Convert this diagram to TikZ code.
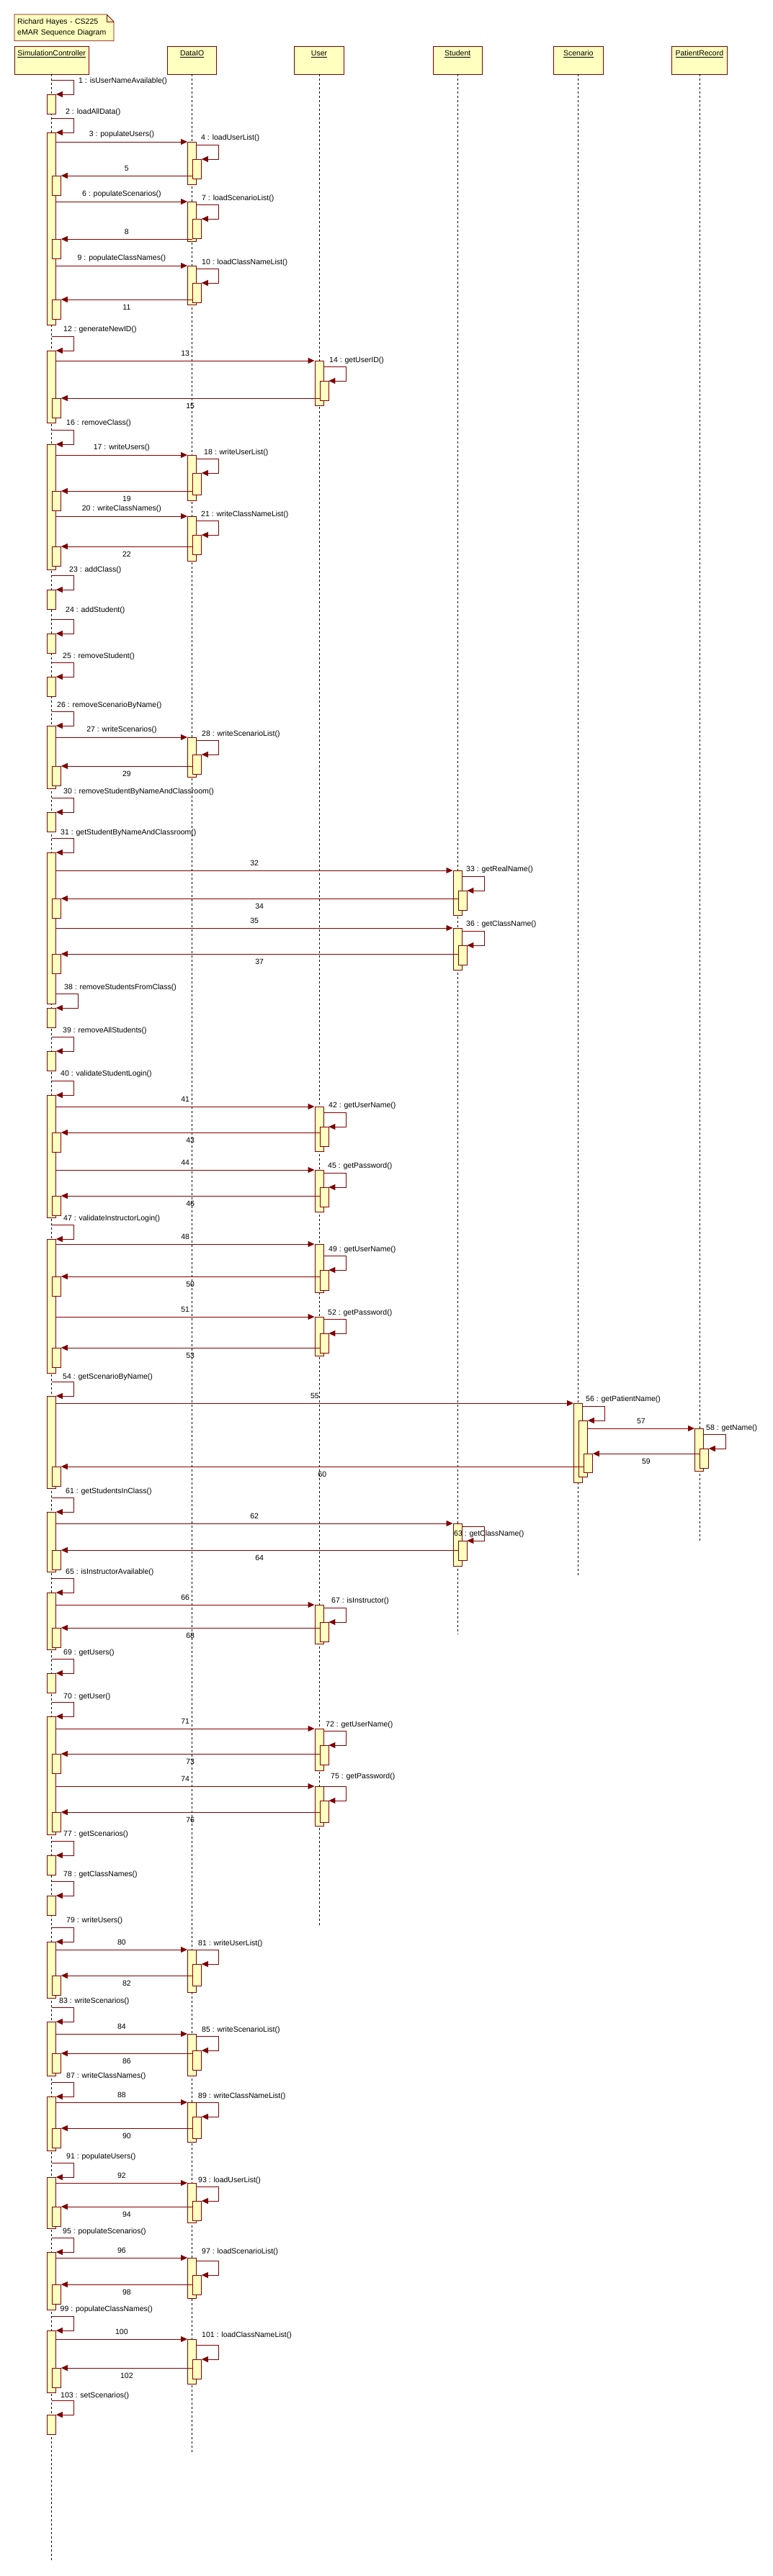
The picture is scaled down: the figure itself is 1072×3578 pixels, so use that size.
\documentclass[tikz,border=0pt]{standalone}
\usepackage{fontspec}
\setmainfont{Liberation Sans}
\usetikzlibrary{arrows.meta}
\definecolor{umlred}{RGB}{128,0,0}
\definecolor{umlfill}{RGB}{255,255,192}

\begin{document}
\begin{tikzpicture}[x=1pt, y=-1pt, font=\fontsize{10.5}{15}\selectfont,
	head/.style={draw=umlred, fill=umlfill, line width=0.8pt, minimum height=39pt, inner sep=0pt},
	act/.style={draw=umlred, fill=umlfill, line width=0.8pt, anchor=north west, minimum width=12pt, minimum height=27pt, inner sep=0pt},
	life/.style={dash pattern=on 3pt off 3pt, line width=0.7pt},
	msg/.style={draw=umlred, line width=0.9pt, -{Triangle[length=9pt, width=8pt]}},
	lbl/.style={inner sep=0pt},
	self/.style={lbl, anchor=west},
	call/.style={lbl, midway, yshift=10pt},
	back/.style={lbl, midway, yshift=-10.5pt}]
	
	\useasboundingbox (0,0) rectangle (1072,3578);
	
	\draw[draw=umlred, fill=umlfill, line width=0.8pt] (20,20) -- (148,20) -- (158,30) -- (158,56.7) -- (20,56.7) -- cycle;
	\draw[draw=umlred, line width=0.6pt] (148,20) |- (158,30);
	\node[lbl, anchor=north west, minimum height=36.7pt, text width=130pt, inner xsep=4pt, align=left] (note) at (20,20) {Richard Hayes - CS225\\eMAR Sequence Diagram};
	
	\node[head, minimum width=103.3pt] (sc)  at (71.7,83.5)  {};
	\node[head, minimum width=68pt]    (dio) at (266.7,83.5) {};
	\node[head, minimum width=68.4pt]  (usr) at (443,83.5)   {};
	\node[head, minimum width=68.3pt]  (stu) at (635.2,83.5) {};
	\node[head, minimum width=68.5pt]  (scn) at (802.8,83.5) {};
	\node[head, minimum width=76.5pt]  (pr)  at (970.9,83.5) {};
	\node[lbl] (sc-t)  at (71.7,75)  {\underline{SimulationController}};
	\node[lbl] (dio-t) at (266.7,75) {\underline{DataIO}};
	\node[lbl] (usr-t) at (443,75)   {\underline{User}};
	\node[lbl] (stu-t) at (635.2,75) {\underline{Student}};
	\node[lbl] (scn-t) at (802.8,75) {\underline{Scenario}};
	\node[lbl] (pr-t)  at (970.9,75) {\underline{PatientRecord}};
	
	\coordinate (sc-end)  at (71.7,3557);
	\coordinate (dio-end) at (266.7,3407);
	\coordinate (usr-end) at (443,2675);
	\coordinate (stu-end) at (635.2,2270);
	\coordinate (scn-end) at (802.8,2189);
	\coordinate (pr-end)  at (970.9,2140);
	\draw[life] (sc) -- (sc-end);
	\draw[life] (dio) -- (dio-end);
	\draw[life] (usr) -- (usr-end);
	\draw[life] (stu) -- (stu-end);
	\draw[life] (scn) -- (scn-end);
	\draw[life] (pr) -- (pr-end);
	
	\node[act] (a1) at (65,131) {};
	\node[act, minimum height=267pt] (a2) at (65,184) {};
	\node[act, minimum height=100pt] (a12) at (65,487) {};
	\node[act, minimum height=174pt] (a16) at (65,617) {};
	\node[act] (a23) at (65,819) {};
	\node[act] (a24) at (65,880) {};
	\node[act] (a25) at (65,940) {};
	\node[act, minimum height=87pt] (a26) at (65,1008) {};
	\node[act] (a30) at (65,1128) {};
	\node[act, minimum height=210pt] (a31) at (65,1184) {};
	\node[act] (a38) at (65,1400) {};
	\node[act] (a39) at (65,1460) {};
	\node[act, minimum height=170pt] (a40) at (65,1521) {};
	\node[act, minimum height=186pt] (a47) at (65,1721) {};
	\node[act, minimum height=128pt] (a54) at (65,1939) {};
	\node[act, minimum height=83pt] (a61) at (65,2100) {};
	\node[act, minimum height=79pt] (a65) at (65,2212) {};
	\node[act] (a69) at (65,2324) {};
	\node[act, minimum height=164pt] (a70) at (65,2384) {};
	\node[act] (a77) at (65,2577) {};
	\node[act] (a78) at (65,2633) {};
	\node[act, minimum height=78pt] (a79) at (65,2697) {};
	\node[act, minimum height=75pt] (a83) at (65,2808) {};
	\node[act, minimum height=75pt] (a87) at (65,2912) {};
	\node[act, minimum height=71pt] (a91) at (65,3024) {};
	\node[act, minimum height=80pt] (a95) at (65,3128) {};
	\node[act, minimum height=86pt] (a99) at (65,3237) {};
	\node[act] (a103) at (65,3354) {};
	
	\node[act, minimum height=59pt] (d3) at (260,197) {};
	\node[act, minimum height=55pt] (d6) at (260,280) {};
	\node[act, minimum height=54pt] (d9) at (260,369) {};
	\node[act, minimum height=63pt] (d17) at (260,632) {};
	\node[act, minimum height=62pt] (d20) at (260,717) {};
	\node[act, minimum height=55pt] (d27) at (260,1024) {};
	\node[act, minimum height=59pt] (d80) at (260,2708) {};
	\node[act, minimum height=58pt] (d84) at (260,2825) {};
	\node[act, minimum height=55pt] (d88) at (260,2920) {};
	\node[act, minimum height=55pt] (d92) at (260,3032) {};
	\node[act, minimum height=56pt] (d96) at (260,3136) {};
	\node[act, minimum height=62pt] (d100) at (260,3249) {};
	\node[act] (n4) at (267,221) {};
	\node[act] (n7) at (267,304) {};
	\node[act] (n10) at (267,393) {};
	\node[act, minimum height=30pt] (n18) at (267,657) {};
	\node[act] (n21) at (267,743) {};
	\node[act] (n28) at (267,1048) {};
	\node[act, minimum height=30pt] (n81) at (267,2728) {};
	\node[act] (n85) at (267,2848) {};
	\node[act, minimum height=30pt] (n89) at (267,2940) {};
	\node[act] (n93) at (267,3057) {};
	\node[act] (n97) at (267,3160) {};
	\node[act] (n101) at (267,3277) {};
	
	\node[act, minimum height=62pt] (u13) at (436.5,501) {};
	\node[act, minimum height=62pt] (u41) at (436.5,1537) {};
	\node[act, minimum height=58pt] (u44) at (436.5,1625) {};
	\node[act, minimum height=67pt] (u48) at (436.5,1728) {};
	\node[act, minimum height=54pt] (u51) at (436.5,1829) {};
	\node[act, minimum height=54pt] (u66) at (436.5,2229) {};
	\node[act, minimum height=58pt] (u71) at (436.5,2401) {};
	\node[act, minimum height=55pt] (u74) at (436.5,2481) {};
	\node[act] (n14) at (443.5,529) {};
	\node[act] (n42) at (443.5,1565) {};
	\node[act] (n45) at (443.5,1649) {};
	\node[act, minimum height=28pt] (n49) at (443.5,1764) {};
	\node[act] (n52) at (443.5,1852) {};
	\node[act] (n67) at (443.5,2253) {};
	\node[act] (n72) at (443.5,2424) {};
	\node[act, minimum height=30pt] (n75) at (443.5,2501) {};
	
	\node[act, minimum height=62pt] (s32) at (628.5,1209) {};
	\node[act, minimum height=58pt] (s35) at (628.5,1289) {};
	\node[act, minimum height=59pt] (s62) at (628.5,2116) {};
	\node[act] (n33) at (635.5,1237) {};
	\node[act] (n36) at (635.5,1313) {};
	\node[act] (n63) at (635.5,2140) {};
	
	\node[act, minimum height=110pt] (c55) at (796,1949) {};
	\node[act, minimum height=78pt] (n56) at (803,1973) {};
	\node[act, minimum height=26pt] (n59) at (810,2019) {};
	\node[act, minimum height=59pt] (p57) at (964,1984) {};
	\node[act] (n58) at (971,2012) {};
	
	\node[act] (r5) at (72,244) {};
	\node[act] (r8) at (72,332) {};
	\node[act] (r11) at (72,416) {};
	\node[act] (r15) at (72,553) {};
	\node[act] (r19) at (72,682) {};
	\node[act] (r22) at (72,759) {};
	\node[act] (r29) at (72,1064) {};
	\node[act] (r34) at (72,1248) {};
	\node[act] (r37) at (72,1325) {};
	\node[act] (r43) at (72,1573) {};
	\node[act] (r46) at (72,1661) {};
	\node[act] (r50) at (72,1773) {};
	\node[act] (r53) at (72,1872) {};
	\node[act] (r60) at (72,2037) {};
	\node[act] (r64) at (72,2153) {};
	\node[act] (r68) at (72,2261) {};
	\node[act] (r73) at (72,2436) {};
	\node[act] (r76) at (72,2517) {};
	\node[act] (r82) at (72,2744) {};
	\node[act] (r86) at (72,2852) {};
	\node[act] (r90) at (72,2956) {};
	\node[act] (r94) at (72,3065) {};
	\node[act] (r98) at (72,3173) {};
	\node[act] (r102) at (72,3289) {};
	
	\draw[msg] (a2.east |- d3.north) -- (d3.north west) node[call] {3 : populateUsers()};
	\draw[msg] (a2.east |- d6.north) -- (d6.north west) node[call] {6 : populateScenarios()};
	\draw[msg] (a2.east |- d9.north) -- (d9.north west) node[call] {9 : populateClassNames()};
	\draw[msg] (a12.east |- u13.north) -- (u13.north west) node[call] {13};
	\draw[msg] (a16.east |- d17.north) -- (d17.north west) node[call] {17 : writeUsers()};
	\draw[msg] (a16.east |- d20.north) -- (d20.north west) node[call] {20 : writeClassNames()};
	\draw[msg] (a26.east |- d27.north) -- (d27.north west) node[call] {27 : writeScenarios()};
	\draw[msg] (a31.east |- s32.north) -- (s32.north west) node[call] {32};
	\draw[msg] (a31.east |- s35.north) -- (s35.north west) node[call] {35};
	\draw[msg] (a40.east |- u41.north) -- (u41.north west) node[call] {41};
	\draw[msg] (a40.east |- u44.north) -- (u44.north west) node[call] {44};
	\draw[msg] (a47.east |- u48.north) -- (u48.north west) node[call] {48};
	\draw[msg] (a47.east |- u51.north) -- (u51.north west) node[call] {51};
	\draw[msg] (a54.east |- c55.north) -- (c55.north west) node[call] {55};
	\draw[msg] (n56.east |- p57.north) -- (p57.north west) node[call] {57};
	\draw[msg] (a61.east |- s62.north) -- (s62.north west) node[call] {62};
	\draw[msg] (a65.east |- u66.north) -- (u66.north west) node[call] {66};
	\draw[msg] (a70.east |- u71.north) -- (u71.north west) node[call] {71};
	\draw[msg] (a70.east |- u74.north) -- (u74.north west) node[call] {74};
	\draw[msg] (a79.east |- d80.north) -- (d80.north west) node[call] {80};
	\draw[msg] (a83.east |- d84.north) -- (d84.north west) node[call] {84};
	\draw[msg] (a87.east |- d88.north) -- (d88.north west) node[call] {88};
	\draw[msg] (a91.east |- d92.north) -- (d92.north west) node[call] {92};
	\draw[msg] (a95.east |- d96.north) -- (d96.north west) node[call] {96};
	\draw[msg] (a99.east |- d100.north) -- (d100.north west) node[call] {100};
	
	\draw[msg] (n4.west |- r5.north) -- (r5.north east) node[call] {5};
	\draw[msg] (n7.west |- r8.north) -- (r8.north east) node[call] {8};
	\draw[msg] (n10.west |- r11.north) -- (r11.north east) node[back] {11};
	\draw[msg] (n14.west |- r15.north) -- (r15.north east) node[back] {15};
	\draw[msg] (n18.west |- r19.north) -- (r19.north east) node[back] {19};
	\draw[msg] (n21.west |- r22.north) -- (r22.north east) node[back] {22};
	\draw[msg] (n28.west |- r29.north) -- (r29.north east) node[back] {29};
	\draw[msg] (n33.west |- r34.north) -- (r34.north east) node[back] {34};
	\draw[msg] (n36.west |- r37.north) -- (r37.north east) node[back] {37};
	\draw[msg] (n42.west |- r43.north) -- (r43.north east) node[back] {43};
	\draw[msg] (n45.west |- r46.north) -- (r46.north east) node[back] {46};
	\draw[msg] (n49.west |- r50.north) -- (r50.north east) node[back] {50};
	\draw[msg] (n52.west |- r53.north) -- (r53.north east) node[back] {53};
	\draw[msg] (n58.west |- n59.north) -- (n59.north east) node[back] {59};
	\draw[msg] (n59.west |- r60.north) -- (r60.north east) node[back] {60};
	\draw[msg] (n63.west |- r64.north) -- (r64.north east) node[back] {64};
	\draw[msg] (n67.west |- r68.north) -- (r68.north east) node[back] {68};
	\draw[msg] (n72.west |- r73.north) -- (r73.north east) node[back] {73};
	\draw[msg] (n75.west |- r76.north) -- (r76.north east) node[back] {76};
	\draw[msg] (n81.west |- r82.north) -- (r82.north east) node[back] {82};
	\draw[msg] (n85.west |- r86.north) -- (r86.north east) node[back] {86};
	\draw[msg] (n89.west |- r90.north) -- (r90.north east) node[back] {90};
	\draw[msg] (n93.west |- r94.north) -- (r94.north east) node[back] {94};
	\draw[msg] (n97.west |- r98.north) -- (r98.north east) node[back] {98};
	\draw[msg] (n101.west |- r102.north) -- (r102.north east) node[back] {102};
	
	\draw[msg] (sc.south |- a1.north) ++(0,-20) -- ++(31,0) |- (a1.north east);
	\draw[msg] (sc.south |- a2.north) ++(0,-20) -- ++(31,0) |- (a2.north east);
	\draw[msg] (d3.east |- n4.north) ++(0,-20) -- ++(31,0) |- (n4.north east);
	\draw[msg] (d6.east |- n7.north) ++(0,-20) -- ++(31,0) |- (n7.north east);
	\draw[msg] (d9.east |- n10.north) ++(0,-20) -- ++(31,0) |- (n10.north east);
	\draw[msg] (sc.south |- a12.north) ++(0,-20) -- ++(31,0) |- (a12.north east);
	\draw[msg] (u13.east |- n14.north) ++(0,-20) -- ++(31,0) |- (n14.north east);
	\draw[msg] (sc.south |- a16.north) ++(0,-20) -- ++(31,0) |- (a16.north east);
	\draw[msg] (d17.east |- n18.north) ++(0,-20) -- ++(31,0) |- (n18.north east);
	\draw[msg] (d20.east |- n21.north) ++(0,-20) -- ++(31,0) |- (n21.north east);
	\draw[msg] (sc.south |- a23.north) ++(0,-20) -- ++(31,0) |- (a23.north east);
	\draw[msg] (sc.south |- a24.north) ++(0,-20) -- ++(31,0) |- (a24.north east);
	\draw[msg] (sc.south |- a25.north) ++(0,-20) -- ++(31,0) |- (a25.north east);
	\draw[msg] (sc.south |- a26.north) ++(0,-20) -- ++(31,0) |- (a26.north east);
	\draw[msg] (d27.east |- n28.north) ++(0,-20) -- ++(31,0) |- (n28.north east);
	\draw[msg] (sc.south |- a30.north) ++(0,-20) -- ++(31,0) |- (a30.north east);
	\draw[msg] (sc.south |- a31.north) ++(0,-20) -- ++(31,0) |- (a31.north east);
	\draw[msg] (s32.east |- n33.north) ++(0,-20) -- ++(31,0) |- (n33.north east);
	\draw[msg] (s35.east |- n36.north) ++(0,-20) -- ++(31,0) |- (n36.north east);
	\draw[msg] (a31.east |- a38.north) ++(0,-20) -- ++(31,0) |- (a38.north east);
	\draw[msg] (sc.south |- a39.north) ++(0,-20) -- ++(31,0) |- (a39.north east);
	\draw[msg] (sc.south |- a40.north) ++(0,-20) -- ++(31,0) |- (a40.north east);
	\draw[msg] (u41.east |- n42.north) ++(0,-20) -- ++(31,0) |- (n42.north east);
	\draw[msg] (u44.east |- n45.north) ++(0,-20) -- ++(31,0) |- (n45.north east);
	\draw[msg] (sc.south |- a47.north) ++(0,-20) -- ++(31,0) |- (a47.north east);
	\draw[msg] (u48.east |- n49.north) ++(0,-20) -- ++(31,0) |- (n49.north east);
	\draw[msg] (u51.east |- n52.north) ++(0,-20) -- ++(31,0) |- (n52.north east);
	\draw[msg] (sc.south |- a54.north) ++(0,-20) -- ++(31,0) |- (a54.north east);
	\draw[msg] (c55.east |- n56.north) ++(0,-20) -- ++(31,0) |- (n56.north east);
	\draw[msg] (p57.east |- n58.north) ++(0,-20) -- ++(31,0) |- (n58.north east);
	\draw[msg] (sc.south |- a61.north) ++(0,-20) -- ++(31,0) |- (a61.north east);
	\draw[msg] (s62.east |- n63.north) ++(0,-20) -- ++(31,0) |- (n63.north east);
	\draw[msg] (sc.south |- a65.north) ++(0,-20) -- ++(31,0) |- (a65.north east);
	\draw[msg] (u66.east |- n67.north) ++(0,-20) -- ++(31,0) |- (n67.north east);
	\draw[msg] (sc.south |- a69.north) ++(0,-20) -- ++(31,0) |- (a69.north east);
	\draw[msg] (sc.south |- a70.north) ++(0,-20) -- ++(31,0) |- (a70.north east);
	\draw[msg] (u71.east |- n72.north) ++(0,-20) -- ++(31,0) |- (n72.north east);
	\draw[msg] (u74.east |- n75.north) ++(0,-20) -- ++(31,0) |- (n75.north east);
	\draw[msg] (sc.south |- a77.north) ++(0,-20) -- ++(31,0) |- (a77.north east);
	\draw[msg] (sc.south |- a78.north) ++(0,-20) -- ++(31,0) |- (a78.north east);
	\draw[msg] (sc.south |- a79.north) ++(0,-20) -- ++(31,0) |- (a79.north east);
	\draw[msg] (d80.east |- n81.north) ++(0,-20) -- ++(31,0) |- (n81.north east);
	\draw[msg] (sc.south |- a83.north) ++(0,-20) -- ++(31,0) |- (a83.north east);
	\draw[msg] (d84.east |- n85.north) ++(0,-20) -- ++(31,0) |- (n85.north east);
	\draw[msg] (sc.south |- a87.north) ++(0,-20) -- ++(31,0) |- (a87.north east);
	\draw[msg] (d88.east |- n89.north) ++(0,-20) -- ++(31,0) |- (n89.north east);
	\draw[msg] (sc.south |- a91.north) ++(0,-20) -- ++(31,0) |- (a91.north east);
	\draw[msg] (d92.east |- n93.north) ++(0,-20) -- ++(31,0) |- (n93.north east);
	\draw[msg] (sc.south |- a95.north) ++(0,-20) -- ++(31,0) |- (a95.north east);
	\draw[msg] (d96.east |- n97.north) ++(0,-20) -- ++(31,0) |- (n97.north east);
	\draw[msg] (sc.south |- a99.north) ++(0,-20) -- ++(31,0) |- (a99.north east);
	\draw[msg] (d100.east |- n101.north) ++(0,-20) -- ++(31,0) |- (n101.north east);
	\draw[msg] (sc.south |- a103.north) ++(0,-20) -- ++(31,0) |- (a103.north east);
	
	\node[self] (l1) at (109,113) {1 : isUserNameAvailable()};
	\node[self] (l2) at (91,156) {2 : loadAllData()};
	\node[self] (l4) at (279,192) {4 : loadUserList()};
	\node[self] (l7) at (280,276) {7 : loadScenarioList()};
	\node[self] (l10) at (280,365) {10 : loadClassNameList()};
	\node[self] (l12) at (88,458) {12 : generateNewID()};
	\node[self] (l14) at (457,501) {14 : getUserID()};
	\node[self] (l16) at (92,588) {16 : removeClass()};
	\node[self] (l18) at (283,629) {18 : writeUserList()};
	\node[self] (l21) at (279,715) {21 : writeClassNameList()};
	\node[self] (l23) at (96,792) {23 : addClass()};
	\node[self] (l24) at (91,848) {24 : addStudent()};
	\node[self] (l25) at (87,912) {25 : removeStudent()};
	\node[self] (l26) at (79,980) {26 : removeScenarioByName()};
	\node[self] (l28) at (280,1020) {28 : writeScenarioList()};
	\node[self] (l30) at (88,1100) {30 : removeStudentByNameAndClassroom()};
	\node[self] (l31) at (84,1157) {31 : getStudentByNameAndClassroom()};
	\node[self] (l33) at (647,1208) {33 : getRealName()};
	\node[self] (l36) at (647,1284) {36 : getClassName()};
	\node[self] (l38) at (89,1372) {38 : removeStudentsFromClass()};
	\node[self] (l39) at (87,1432) {39 : removeAllStudents()};
	\node[self] (l40) at (84,1492) {40 : validateStudentLogin()};
	\node[self] (l42) at (456,1536) {42 : getUserName()};
	\node[self] (l45) at (455,1620) {45 : getPassword()};
	\node[self] (l47) at (88,1693) {47 : validateInstructorLogin()};
	\node[self] (l49) at (456,1736) {49 : getUserName()};
	\node[self] (l52) at (455,1824) {52 : getPassword()};
	\node[self] (l54) at (87,1913) {54 : getScenarioByName()};
	\node[self] (l56) at (813,1944) {56 : getPatientName()};
	\node[self] (l58) at (980,1984) {58 : getName()};
	\node[self] (l61) at (91,2072) {61 : getStudentsInClass()};
	\node[self] (l63) at (630,2131) {63 : getClassName()};
	\node[self] (l65) at (91,2184) {65 : isInstructorAvailable()};
	\node[self] (l67) at (460,2224) {67 : isInstructor()};
	\node[self] (l69) at (88,2296) {69 : getUsers()};
	\node[self] (l70) at (88,2357) {70 : getUser()};
	\node[self] (l72) at (452,2396) {72 : getUserName()};
	\node[self] (l75) at (459,2468) {75 : getPassword()};
	\node[self] (l77) at (88,2548) {77 : getScenarios()};
	\node[self] (l78) at (88,2604) {78 : getClassNames()};
	\node[self] (l79) at (92,2668) {79 : writeUsers()};
	\node[self] (l81) at (275,2700) {81 : writeUserList()};
	\node[self] (l83) at (82,2780) {83 : writeScenarios()};
	\node[self] (l85) at (280,2820) {85 : writeScenarioList()};
	\node[self] (l87) at (92,2884) {87 : writeClassNames()};
	\node[self] (l89) at (275,2912) {89 : writeClassNameList()};
	\node[self] (l91) at (92,2996) {91 : populateUsers()};
	\node[self] (l93) at (275,3029) {93 : loadUserList()};
	\node[self] (l95) at (87,3100) {95 : populateScenarios()};
	\node[self] (l97) at (280,3128) {97 : loadScenarioList()};
	\node[self] (l99) at (83.5,3208) {99 : populateClassNames()};
	\node[self] (l101) at (280,3244) {101 : loadClassNameList()};
	\node[self] (l103) at (84,3328) {103 : setScenarios()};
	
\end{tikzpicture}
\end{document}
